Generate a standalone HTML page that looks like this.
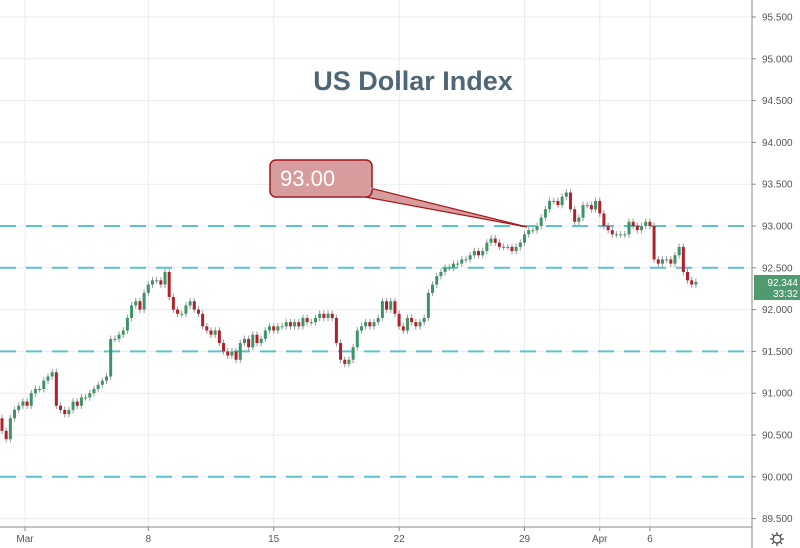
<!DOCTYPE html>
<html><head><meta charset="utf-8"><style>
body{margin:0;background:#fff;font-family:"Liberation Sans",sans-serif}
svg{display:block}
</style></head><body>
<svg id="chart" width="800" height="548" viewBox="0 0 800 548" xmlns="http://www.w3.org/2000/svg">
<g id="grid"></g>
<g id="levels"></g>
<g id="candles"></g>
<g id="yaxis"></g>
<g id="xaxis"></g>
<text x="413" y="90" text-anchor="middle" font-size="27" font-weight="bold" fill="#4f6677">US Dollar Index</text>
<g>
<path d="M360 196 L527 227 L370 188 Z" fill="#d79c9c" stroke="#a3161b" stroke-width="1.2"/>
<rect x="270" y="160" width="102" height="37" rx="6" fill="#d79c9c" stroke="#a3161b" stroke-width="1.5"/>
<path d="M362 196.2 L372 188" stroke="#d79c9c" stroke-width="2"/>
<text x="280" y="186" font-size="22" fill="#fff">93.00</text>
</g>
<g>
<rect x="754" y="275" width="46" height="25" fill="#4f9a6f"/>
<text x="798" y="286" text-anchor="end" font-size="10" fill="#fff">92.344</text>
<text x="798" y="297" text-anchor="end" font-size="10" fill="#fff">33:32</text>
</g>
<g>
<circle cx="777" cy="539" r="4" fill="none" stroke="#444" stroke-width="1.2"/>
<path d="M777 532v3M777 543v3M770 539h3M781 539h3M772 534l2 2M780 542l2 2M772 544l2-2M780 536l2-2" stroke="#444" stroke-width="1.2"/>
</g>
</svg>
<script>
const yTicks=[95.5,95.0,94.5,94.0,93.5,93.0,92.5,92.0,91.5,91.0,90.5,90.0,89.5];
const levelValues=[93.0,92.5,91.5,90.0];
const xLabels=["Mar","8","15","22","29","Apr","6"];
const xLabelIdx=[5.5,35,65,95,125,143,155];
const closes=[90.55,90.45,90.7,90.8,90.85,90.9,90.85,91.0,91.05,91.05,91.15,91.2,91.25,
90.85,90.8,90.75,90.8,90.9,90.85,90.95,90.95,91.0,91.05,91.1,91.15,91.2,
91.65,91.65,91.7,91.75,91.9,92.05,92.1,92.0,92.2,92.3,92.35,92.35,92.3,92.45,
92.15,92.0,91.95,91.95,92.05,92.1,92.0,91.95,91.8,91.75,91.7,91.75,91.6,91.5,91.45,91.5,
91.4,91.6,91.65,91.55,91.7,91.6,91.65,91.75,91.8,91.75,91.8,91.8,91.85,91.8,91.85,91.8,91.9,91.85,91.85,91.9,91.95,91.9,91.95,91.9,91.6,
91.4,91.35,91.4,91.55,91.75,91.8,91.85,91.8,91.85,91.9,
92.1,92.0,92.1,91.95,91.8,91.75,91.9,91.85,91.8,91.85,91.9,92.2,92.3,92.4,92.45,
92.5,92.5,92.55,92.55,92.6,92.6,92.65,92.7,92.65,92.7,92.8,92.85,92.8,92.75,92.75,
92.75,92.7,92.75,92.8,92.9,92.95,92.95,93.0,93.1,93.2,93.3,93.3,93.25,93.35,
93.4,93.2,93.05,93.1,93.25,93.25,93.2,93.3,93.15,93.0,92.95,92.9,92.9,92.9,92.9,93.05,
93.0,92.95,93.0,93.05,93.0,92.6,92.55,92.6,92.6,92.55,92.65,92.75,92.45,92.35,92.3,92.33];
const firstOpen=90.7;
const NS="http://www.w3.org/2000/svg";
function yS(p){return 17+(95.5-p)*83.6;}
function xS(i){return 2+i*4.18;}
function mk(tag,attrs,parent){const e=document.createElementNS(NS,tag);for(const k in attrs)e.setAttribute(k,attrs[k]);parent.appendChild(e);return e;}
const grid=document.getElementById('grid'),lv=document.getElementById('levels'),cg=document.getElementById('candles'),ya=document.getElementById('yaxis'),xa=document.getElementById('xaxis');
yTicks.forEach(t=>{
 const l=mk('line',{x1:0,x2:752,y1:yS(t),y2:yS(t),stroke:'#ececec','stroke-width':1},grid);
 
 
 const tk=mk('line',{x1:752,x2:756,y1:yS(t),y2:yS(t),stroke:'#888'},ya);
 
 
 const tx=mk('text',{x:762,y:yS(t)+3.5,'font-size':10,fill:'#555'},ya);
 tx.textContent=t.toFixed(3);
 
 
});
xLabelIdx.forEach((ix,k)=>{
 const x=xS(ix);
 const l=mk('line',{x1:x,x2:x,y1:0,y2:527,stroke:'#ececec'},grid);
 
 
 const tk=mk('line',{x1:x,x2:x,y1:527,y2:531,stroke:'#888'},xa);
 
 
 const tx=mk('text',{x:x,y:542,'font-size':10,fill:'#555','text-anchor':'middle'},xa);
 tx.textContent=xLabels[k];
 
 
});
const ax1=mk('line',{x1:0,x2:752,y1:527,y2:527,stroke:'#888'},xa);


const ax2=mk('line',{x1:752,x2:752,y1:0,y2:548,stroke:'#888'},ya);


levelValues.forEach(v=>{
 const l=mk('line',{x1:0,x2:752,y1:yS(v),y2:yS(v),stroke:'#5cc2cb','stroke-width':2,'stroke-dasharray':'16 10'},lv);
 
 
});
let prev=firstOpen;
closes.forEach((c,i)=>{
 const o=prev,x=xS(i);
 const up=c>=o;
 const col=up?'#3d9467':'#b3202a';
 const hi=Math.max(o,c)+0.04,lo=Math.min(o,c)-0.04;
 const w=mk('line',{x1:x,x2:x,y1:yS(hi),y2:yS(lo),stroke:'#999','stroke-width':1},cg);
 
 
 const top=yS(Math.max(o,c)),h=Math.max(1,yS(Math.min(o,c))-top);
 const b=mk('rect',{x:x-1.5,y:top,width:3,height:h,fill:col},cg);
 
 
 prev=c;
});
</script>
</body></html>
